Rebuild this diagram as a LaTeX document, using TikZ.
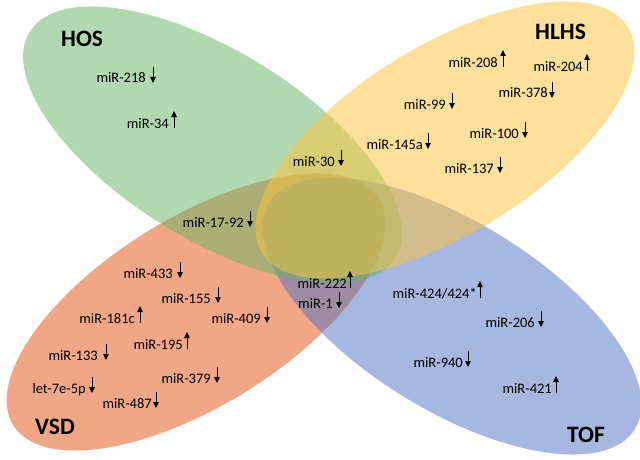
\documentclass[tikz,border=0pt]{standalone}
\usepackage{fontspec}
\setmainfont{Carlito}
\usetikzlibrary{arrows.meta}
\definecolor{cvsd}{RGB}{229,81,17}
\definecolor{ctof}{RGB}{81,113,193}
\definecolor{chos}{RGB}{103,179,103}
\definecolor{chlhs}{RGB}{253,195,57}
\tikzset{
  setfill/.style={fill=#1, fill opacity=0.5, draw=none},
  lab/.style={inner sep=0pt, font=\fontsize{14.5}{17}\selectfont, text=black},
  ttl/.style={inner sep=0pt, font=\fontsize{23.5}{28}\selectfont\bfseries, text=black, anchor=base west},
  arr/.style={line width=0.8pt, -{Triangle[width=5.5pt,length=6pt]}},
}
\newcommand\labdn[5]{%
  \node[lab,anchor=base east] (#1) at (#2,#3) {#4};
  \draw[arr] ([xshift=#5pt,yshift=16pt]#1.base east) -- ([xshift=#5pt]#1.base east);}
\newcommand\labup[5]{%
  \node[lab,anchor=base east] (#1) at (#2,#3) {#4};
  \draw[arr] ([xshift=#5pt]#1.base east) -- ([xshift=#5pt,yshift=17pt]#1.base east);}
\begin{document}
\begin{tikzpicture}[x=1pt,y=-1pt]
\fill[white] (0,0) rectangle (640,460);
\useasboundingbox (0,0) rectangle (640,460);
% sets
\fill[setfill=cvsd, rotate around={31.75:(196,312)}] (196,312) ellipse [x radius=215pt, y radius=94pt];
\fill[setfill=ctof, rotate around={-31.75:(452,316)}] (452,316) ellipse [x radius=215pt, y radius=94pt];
\fill[setfill=chos, rotate around={-31.75:(212.5,145)}] (212.5,145) ellipse [x radius=215pt, y radius=94pt];
\fill[setfill=chlhs, rotate around={31.75:(445,140)}] (445,140) ellipse [x radius=215pt, y radius=94pt];
% titles
\node[ttl] (hos) at (61,47) {HOS};
\node[ttl] (hlhs) at (535,40) {HLHS};
\node[ttl] (vsd) at (35,434) {VSD};
\node[ttl] (tof) at (567,442) {TOF};
% labels
\labdn{l218}{146}{83}{miR-218}{7}
\labup{l34}{169}{128}{miR-34}{5}
\labdn{l1792}{244}{227}{miR-17-92}{6}
\labdn{l30}{335}{166}{miR-30}{6}
\labup{l208}{498}{67}{miR-208}{5}
\labup{l204}{583}{71}{miR-204}{4}
\labdn{l378}{548}{98}{miR-378}{4}
\labdn{l99}{446}{109}{miR-99}{6}
\labdn{l100}{519}{138}{miR-100}{6}
\labdn{l145}{423}{149}{miR-145a}{5}
\labdn{l137}{494}{173}{miR-137}{6}
\labdn{l433}{173}{278}{miR-433}{7}
\labdn{l155}{211}{303}{miR-155}{7}
\labup{l181}{135}{323}{miR-181c}{5}
\labdn{l409}{261}{323}{miR-409}{6}
\labup{l195}{183}{349}{miR-195}{4}
\labdn{l133}{98}{360}{miR-133}{8}
\labdn{l379}{211}{383}{miR-379}{6}
\labdn{llet}{86}{393}{let-7e-5p}{6}
\labdn{l487}{152}{408}{miR-487}{4}
\labup{l222}{347}{288}{miR-222}{3}
\labdn{l1}{333}{308}{miR-1}{6}
\labup{l424}{477}{298}{miR-424/424*}{3}
\labdn{l206}{535}{327}{miR-206}{6}
\labdn{l940}{463}{367}{miR-940}{5}
\labup{l421}{552}{393}{miR-421}{4}
\end{tikzpicture}
\end{document}
